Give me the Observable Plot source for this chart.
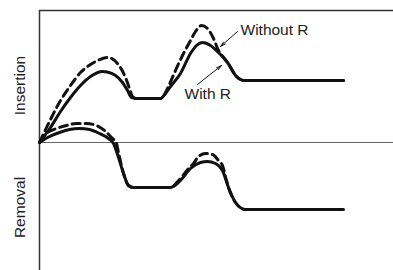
<!DOCTYPE html>
<html>
<head>
<meta charset="utf-8">
<script src="https://cdn.jsdelivr.net/npm/d3@7"></script>
<script src="https://cdn.jsdelivr.net/npm/@observablehq/plot@0.6"></script>
<style>
  html, body { margin: 0; padding: 0; background: #fff; }
  #chart svg { display: block; }
</style>
</head>
<body>
<div id="chart"></div>
<script>
// Time axis values (arbitrary units) and responses
const insertionWithR = [
  [0,0],[6,8],[11,15],[21,31],[31,45],[41,57],[51,66],[63,71],[76,67],[83,60],[88,52],[92,45],[96,44],
  [121,44],[126,49],[131,56],[141,69],[151,89],[157,97],[163,100],[171,97],[178,91],[188,80],[197,66],[201,63],[205,62],[304,62]
];
const insertionWithoutR = [
  [0,0],[10,21],[21,42],[31,57],[41,70],[51,78],[58,82],[68,85],[78,79],[86,65],[90,54],[93,46],[97,44],
  [121,44],[125,48],[128,54],[136,72],[144,89],[151,102],[156,111],[162,117],[168,114],[174,104],[179,92],[185,84],[188,80],[197,66],[201,63],[205,62],[304,62]
];
const removalWithR = [
  [0,0],[10,6],[20,10],[30,13],[40,14],[50,13],[60,9],[69,4],[74,-1],[79,-15],[84,-31],[89,-43],[94,-45],
  [131,-45],[141,-38],[151,-26],[161,-20],[168,-19],[176,-21],[183,-28],[189,-45],[196,-60],[206,-67],[304,-67]
];
const removalWithoutR = [
  [0,0],[7,9],[17,14],[27,17],[37,19],[47,19],[57,17],[65,12],[72,5],[77,-1],[79,-10],[84,-31],[89,-43],[94,-45],
  [131,-45],[140,-37],[150,-25],[154,-21],[159,-14],[166,-11],[173,-12],[179,-18],[183,-23],[187,-38],[189,-45],[196,-60],[206,-67],[304,-67]
];
const axisLabels = [
  {text: "Insertion", x: -19, y: 57},
  {text: "Removal", x: -19, y: -65}
];
const notes = [
  {text: "Without R", x: 201, y: 112, x1: 198, y1: 111, x2: 181, y2: 96},
  {text: "With R", x: 145, y: 48, x1: 158, y1: 58, x2: 182, y2: 77}
];
const xDomain = [0, 354];
const yDomain = [-128, 132];

const font = "'Liberation Sans', Arial, Helvetica, sans-serif";
const lineOpts = {x: d => d[0], y: d => d[1], stroke: "#111", strokeWidth: 3, curve: "monotone-x"};

const chart = Plot.plot({
  width: 393,
  height: 270,
  marginLeft: 39,
  marginRight: 0,
  marginTop: 10,
  marginBottom: 0,
  x: {domain: xDomain, axis: null},
  y: {domain: yDomain, axis: null},
  style: {fontFamily: font, background: "#fff"},
  marks: [
    Plot.ruleY([0], {stroke: "#666", strokeWidth: 1}),
    Plot.ruleY([yDomain[1]], {stroke: "#333", strokeWidth: 1.5}),
    Plot.ruleX([0], {stroke: "#333", strokeWidth: 1.5}),
    Plot.line(insertionWithoutR, {...lineOpts, strokeDasharray: "8,5"}),
    Plot.line(removalWithoutR, {...lineOpts, strokeDasharray: "8,5"}),
    Plot.line(insertionWithR, lineOpts),
    Plot.line(removalWithR, lineOpts),
    Plot.arrow(notes, {x1: "x1", y1: "y1", x2: "x2", y2: "y2", stroke: "#111", strokeWidth: 1, headLength: 8, headAngle: 28}),
    Plot.text(notes, {x: "x", y: "y", text: "text", textAnchor: "start", lineAnchor: "middle", fontSize: 15.5, fill: "#222"}),
    Plot.text(axisLabels, {x: "x", y: "y", text: "text", rotate: -90, textAnchor: "middle", lineAnchor: "middle", fontSize: 15.5, fill: "#222"})
  ]
});
document.getElementById("chart").appendChild(chart);
</script>
</body>
</html>
